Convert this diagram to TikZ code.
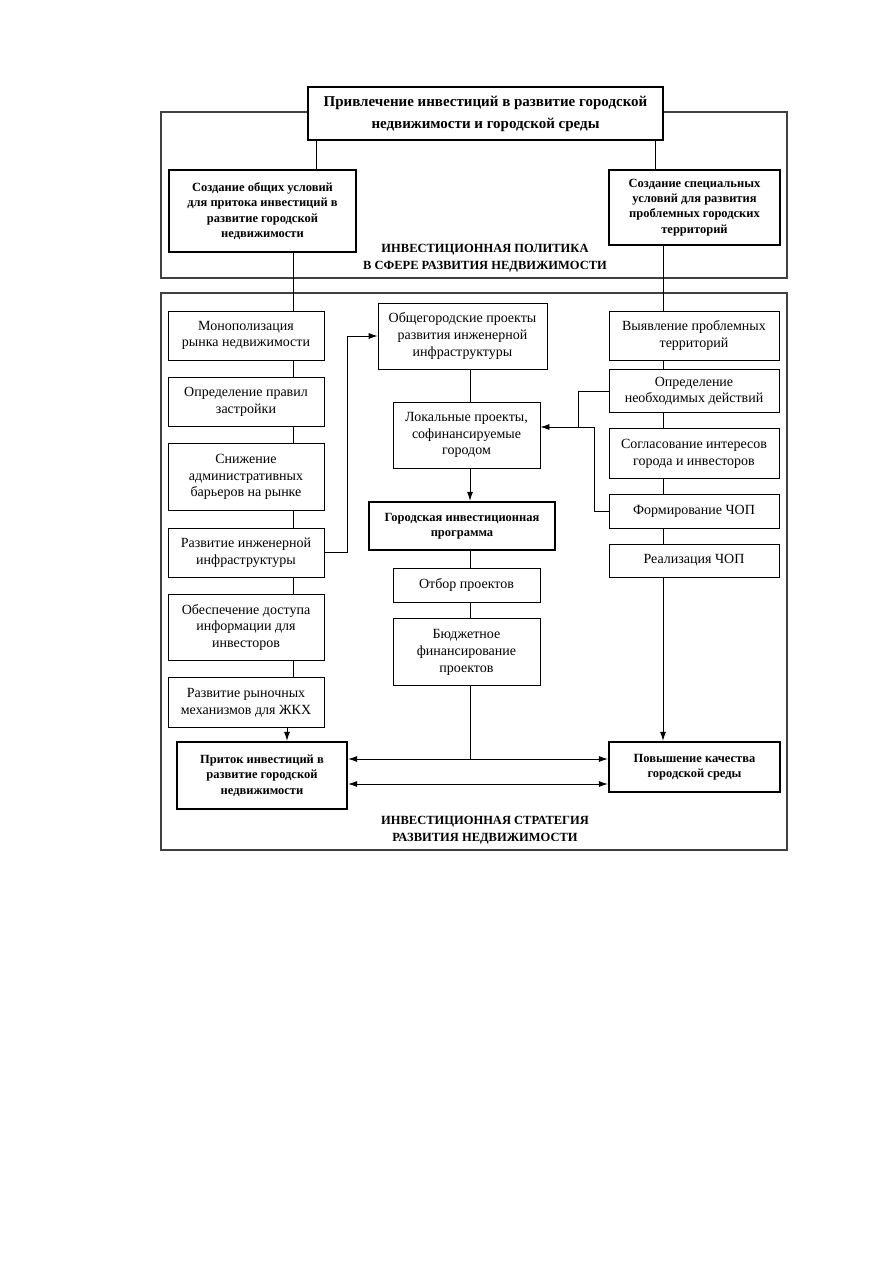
\documentclass[tikz,border=0pt]{standalone}
\usepackage{fontspec}
\setmainfont{Liberation Serif}
\usepackage{xcolor}
\usepackage{tikz}
\usetikzlibrary{positioning, arrows.meta}

\begin{document}
\begin{tikzpicture}[
        x=1pt, y=-1pt,
        node distance=16.5pt,
        box/.style={rectangle, draw, line width=0.8pt, align=center, inner sep=2pt,
            minimum height=49pt, font=\fontsize{14}{16.7}\selectfont},
        bbox/.style={box, line width=2.4pt, font=\bfseries\fontsize{12.5}{15.3}\selectfont},
        frame/.style={draw=black!75, line width=1.1pt},
        label/.style={align=center, font=\bfseries\fontsize{12.5}{17}\selectfont},
        arrow/.style={-{Latex[length=9pt,width=6pt]}, line width=0.8pt},
        arrows2/.style={{Latex[length=9pt,width=6pt]}-{Latex[length=9pt,width=6pt]}, line width=0.8pt},
        link/.style={line width=0.8pt},
    ]
        \useasboundingbox (0,0) rectangle (893,1263);

        % Frames
        \draw[frame] (161,112) rectangle (787,278);
        \draw[frame] (161,293) rectangle (787,850);
        \node[label] (pol) at (485,258) {ИНВЕСТИЦИОННАЯ ПОЛИТИКА\\В СФЕРЕ РАЗВИТИЯ НЕДВИЖИМОСТИ};
        \node[label] (strat) at (485,830) {ИНВЕСТИЦИОННАЯ СТРАТЕГИЯ\\РАЗВИТИЯ НЕДВИЖИМОСТИ};

        % Top
        \node[bbox, fill=white, minimum width=355pt, minimum height=53pt,
            font=\bfseries\fontsize{15}{22}\selectfont] (title) at (485.5,113.5)
            {Привлечение инвестиций в развитие городской\\недвижимости и городской среды};
        \node[bbox, minimum width=187pt, minimum height=82pt] (gen) at (262.5,211)
            {Создание общих условий\\для притока инвестиций в\\развитие городской\\недвижимости};
        \node[bbox, minimum width=171pt, minimum height=75pt] (spec) at (694.5,207.5)
            {Создание специальных\\условий для развития\\проблемных городских\\территорий};

        % Left column
        \node[box, minimum width=156pt] (mono) at (246,335.5) {Монополизация\\рынка недвижимости};
        \node[box, minimum width=156pt, below=of mono] (rules) {Определение правил\\застройки};
        \node[box, minimum width=156pt, minimum height=67pt, below=of rules] (barr) {Снижение\\административных\\барьеров на рынке};
        \node[box, minimum width=156pt, below=of barr] (infra) {Развитие инженерной\\инфраструктуры};
        \node[box, minimum width=156pt, minimum height=66pt, below=of infra] (info) {Обеспечение доступа\\информации для\\инвесторов};
        \node[box, minimum width=156pt, minimum height=50pt, below=of info] (zhkh) {Развитие рыночных\\механизмов для ЖКХ};

        % Middle column
        \node[box, minimum width=169pt, minimum height=66pt] (city) at (462.5,336) {Общегородские проекты\\развития инженерной\\инфраструктуры};
        \node[box, minimum width=147pt, minimum height=66pt] (local) at (466.5,435) {Локальные проекты,\\софинансируемые\\городом};
        \node[bbox, minimum width=186pt, minimum height=48pt] (prog) at (462,526) {Городская инвестиционная\\программа};
        \node[box, minimum width=147pt, minimum height=34pt] (select) at (466.5,585) {Отбор проектов};
        \node[box, minimum width=147pt, minimum height=67pt, below=16pt of select] (budget) {Бюджетное\\финансирование\\проектов};

        % Right column
        \node[box, minimum width=170pt] (find) at (694,335.5) {Выявление проблемных\\территорий};
        \node[box, minimum width=170pt, minimum height=43pt, below=9pt of find] (need) {Определение\\необходимых действий};
        \node[box, minimum width=170pt, minimum height=50pt, below=15pt of need] (agree) {Согласование интересов\\города и инвесторов};
        \node[box, minimum width=170pt, minimum height=34pt, below=15pt of agree] (form) {Формирование ЧОП};
        \node[box, minimum width=170pt, minimum height=33pt, below=15pt of form] (real) {Реализация ЧОП};

        % Results
        \node[bbox, minimum width=170pt, minimum height=67pt] (inflow) at (262,775.5) {Приток инвестиций в\\развитие городской\\недвижимости};
        \node[bbox, minimum width=171pt, minimum height=50pt] (quality) at (694.5,767) {Повышение качества\\городской среды};

        % Spines
        \coordinate (ls) at (293,0);
        \coordinate (ms) at (470,0);
        \coordinate (rs) at (663,0);
        \coordinate (upper) at (0,759);
        \coordinate (lower) at (0,784);
        \coordinate (jn) at (578,427);
        \coordinate (fb) at (594,427);

        % Links
        \draw[link] ([xshift=-169.5pt]title.south) -- (gen.north -| 316,0);
        \draw[link] ([xshift=169.5pt]title.south) -- (spec.north -| 655,0);
        \draw[link] (gen.south -| ls) -- (mono.north -| ls);
        \draw[link] (spec.south -| rs) -- (find.north -| rs);
        \foreach \a/\b in {mono/rules, rules/barr, barr/infra, infra/info, info/zhkh}
            \draw[link] (\a.south -| ls) -- (\b.north -| ls);
        \foreach \a/\b in {find/need, need/agree, agree/form, form/real}
            \draw[link] (\a.south -| rs) -- (\b.north -| rs);
        \foreach \a/\b in {city/local, prog/select, select/budget}
            \draw[link] (\a.south -| ms) -- (\b.north -| ms);

        % Arrows
        \draw[arrow] (zhkh.south -| 287,0) -- (inflow.north -| 287,0);
        \draw[arrow] (real.south -| rs) -- (quality.north -| rs);
        \draw[arrow] (local.south -| ms) -- (prog.north -| ms);
        \draw[arrow] (infra.east) -- ++(23,0) |- (city.west);
        \draw[link] (budget.south -| ms) -- (ms |- upper);
        \draw[arrows2] (inflow.east |- upper) -- (quality.west |- upper);
        \draw[arrows2] (inflow.east |- lower) -- (quality.west |- lower);
        \draw[link] (need.west) -| (jn);
        \draw[link] (form.west) -| (fb);
        \draw[arrow] (fb) -- (local.east |- fb);

    \end{tikzpicture}
\end{document}
